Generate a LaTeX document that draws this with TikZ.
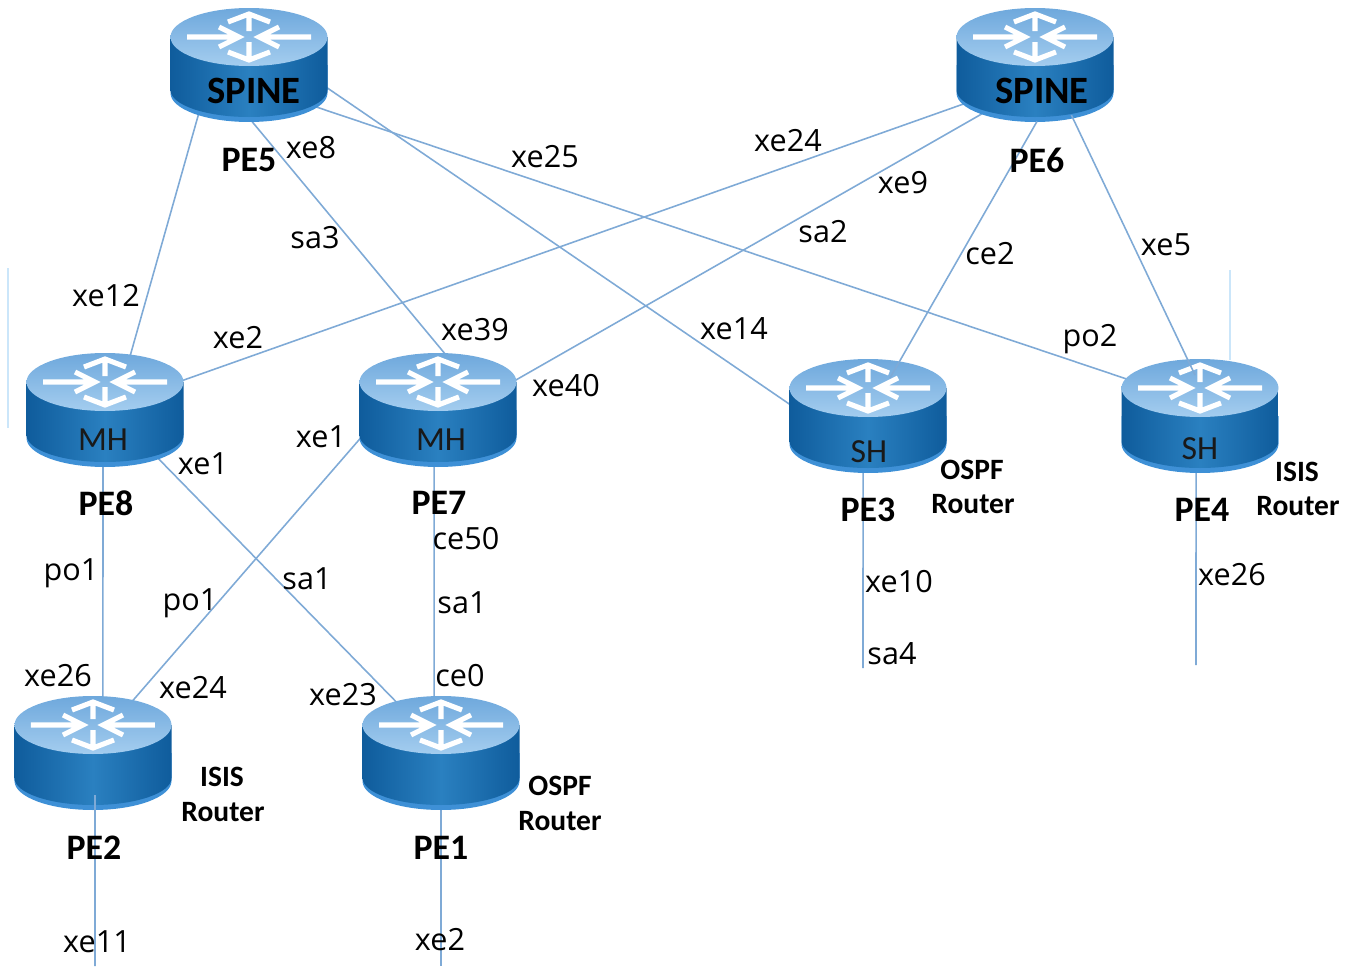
\documentclass[tikz,border=0pt]{standalone}
\usepackage{fontspec}
\setmainfont{Open Sans}
\newfontfamily\boldlabel{Carlito}
\usepackage{xcolor}
\usetikzlibrary{shapes.geometric}

\definecolor{linkblue}{HTML}{7FAAD6}
\definecolor{faintblue}{HTML}{CBE6FA}
\definecolor{bodydark}{HTML}{0F5C9C}
\definecolor{bodylight}{HTML}{2A80C0}
\definecolor{rimblue}{HTML}{3E90D6}
\definecolor{topdark}{HTML}{6EA8DC}
\definecolor{toplight}{HTML}{A4CDEF}

\tikzset{
  routerbox/.style={ellipse,minimum width=1.57cm,minimum height=1.13cm,inner sep=0pt,outer sep=0pt},
  link/.style={draw=linkblue,line width=0.45pt},
  faint/.style={draw=faintblue,line width=0.6pt},
  port/.style={font=\fontsize{8.7}{10}\selectfont,text=black,inner sep=0pt},
  pename/.style={font=\boldlabel\bfseries\fontsize{10.2}{12}\selectfont,inner sep=0pt},
  rolename/.style={font=\boldlabel\bfseries\fontsize{8.4}{10}\selectfont,inner sep=0pt},
  spinetext/.style={font=\boldlabel\bfseries\fontsize{11}{13}\selectfont,inner sep=0pt},
  leaftext/.style={font=\boldlabel\fontsize{9.6}{11}\selectfont,text=black!90,inner sep=0pt},
  arrowline/.style={draw=white,line width=1.45pt},
  router/.pic={
    % rim, body and top disc
    \fill[rimblue] (-0.785,-0.28) arc[start angle=180,end angle=360,x radius=0.785,y radius=0.29]
      -- (0.785,0) -- (-0.785,0) -- cycle;
    \shade[left color=bodydark,right color=bodydark,middle color=bodylight]
      (-0.785,0.28) -- (-0.785,-0.25) arc[start angle=180,end angle=360,x radius=0.785,y radius=0.27]
      -- (0.785,0.28) -- cycle;
    \shade[top color=topdark,bottom color=toplight] (0,0.28) ellipse[x radius=0.785,y radius=0.29];
    % four white arrows
    \draw[arrowline] (-0.62,0.28) -- (-0.12,0.28) (-0.3,0.38) -- (-0.1,0.28) -- (-0.3,0.18);
    \draw[arrowline] (0.62,0.28) -- (0.12,0.28) (0.3,0.38) -- (0.1,0.28) -- (0.3,0.18);
    \draw[arrowline] (0,0.34) -- (0,0.5) (-0.21,0.43) -- (0,0.51) -- (0.21,0.43);
    \draw[arrowline] (0,0.23) -- (0,0.07) (-0.21,0.13) -- (0,0.05) -- (0.21,0.13);
  }
}

\begin{document}
\begin{tikzpicture}
\useasboundingbox (0,0) rectangle (13.53,9.66);

% Routers, laid out first so the links can use their anchors
\node[routerbox] (pe5) at (2.49,9.01) {};
\node[routerbox] (pe6) at (10.35,9.01) {};
\node[routerbox] (pe8) at (1.05,5.56) {};
\node[routerbox] (pe7) at (4.38,5.56) {};
\node[routerbox] (pe3) at (8.68,5.50) {};
\node[routerbox] (pe4) at (12.00,5.50) {};
\node[routerbox] (pe2) at (0.93,2.13) {};
\node[routerbox] (pe1) at (4.41,2.13) {};

% Free ends of the stubs
\coordinate (pe3end) at (8.63,2.98);
\coordinate (pe4end) at (11.96,3.01);
\coordinate (pe2end) at (0.95,0);
\coordinate (pe1end) at (4.41,0);

% Links behind the routers
\draw[link] (pe5.222) -- (pe8.65);
\draw[link] (pe5.273) -- (pe7.83);
\draw[link] (pe5.345) -- (pe3.172);
\draw[link] (pe5.326) -- (pe4.152);
\draw[link] (pe6.210) -- (pe8.21);
\draw[link] (pe6.224) -- (pe7.20);
\draw[link] (pe8.268) -- (pe2.80);
\draw[link] (pe8.318) -- (pe1.131);
\draw[link] (pe7.197) -- (pe2.53);
\draw[link] (pe7.266) -- (pe1.97);
\draw[link] (pe3.265) -- (pe3end);
\draw[link] (pe4.266) -- (pe4end);
\draw[link] (pe1.270) -- (pe1end);

% Two pale rules
\coordinate (faintatop) at (0.08,6.98);
\coordinate (faintabot) at (0.08,5.38);
\coordinate (faintbtop) at (12.30,6.96);
\coordinate (faintbbot) at (12.30,6.06);
\draw[faint] (faintatop) -- (faintabot);
\draw[faint] (faintbtop) -- (faintbbot);

% Draw the routers
\foreach \r in {pe5,pe6,pe8,pe7,pe3,pe4,pe2,pe1}
  \pic at (\r) {router};

% These links run on top of the routers
\draw[link] (pe6.272) -- ([shift={(0.22,0.38)}]pe3.center);
\draw[link] (pe6.306) -- ([shift={(-0.05,0.41)}]pe4.center);
\draw[link] ([shift={(0.02,-0.42)}]pe2.center) -- (pe2end);

% Text on the routers
\node[spinetext] (spineleft) at (2.54,8.75) {SPINE};
\node[spinetext] (spineright) at (10.42,8.75) {SPINE};
\node[leaftext] (mhleft) at (1.03,5.26) {MH};
\node[leaftext] (mhright) at (4.41,5.26) {MH};
\node[leaftext] (shleft) at (8.69,5.14) {SH};
\node[leaftext] (shright) at (12.00,5.17) {SH};

% Router names
\node[pename] (pe5name) at (2.49,8.06) {PE5};
\node[pename] (pe6name) at (10.37,8.06) {PE6};
\node[pename] (pe8name) at (1.06,4.63) {PE8};
\node[pename] (pe7name) at (4.39,4.63) {PE7};
\node[pename] (pe3name) at (8.68,4.56) {PE3};
\node[pename] (pe4name) at (12.02,4.56) {PE4};
\node[pename] (pe2name) at (0.94,1.18) {PE2};
\node[pename] (pe1name) at (4.41,1.18) {PE1};

% Router roles
\node[rolename] (ospfa) at (9.72,4.96) {OSPF};
\node[rolename] (routera) at (9.73,4.62) {Router};
\node[rolename] (isisa) at (12.97,4.94) {ISIS};
\node[rolename] (routerb) at (12.98,4.60) {Router};
\node[rolename] (isisb) at (2.22,1.89) {ISIS};
\node[rolename] (routerc) at (2.23,1.54) {Router};
\node[rolename] (ospfb) at (5.60,1.80) {OSPF};
\node[rolename] (routerd) at (5.60,1.45) {Router};

% Port labels
\node[port] (xe8p5) at (3.11,8.18) {xe8};
\node[port] (xe25p5) at (5.45,8.09) {xe25};
\node[port] (xe24p6) at (7.88,8.25) {xe24};
\node[port] (xe9p6) at (9.03,7.83) {xe9};
\node[port] (sa3p5) at (3.15,7.28) {sa3};
\node[port] (sa2p6) at (8.23,7.34) {sa2};
\node[port] (ce2p6) at (9.90,7.12) {ce2};
\node[port] (xe5p6) at (11.66,7.21) {xe5};
\node[port] (xe12p5) at (1.06,6.70) {xe12};
\node[port] (xe2p8) at (2.38,6.28) {xe2};
\node[port] (xe39p7) at (4.75,6.36) {xe39};
\node[port] (xe14p3) at (7.34,6.37) {xe14};
\node[port] (po2p4) at (10.90,6.27) {po2};
\node[port] (xe40p7) at (5.66,5.80) {xe40};
\node[port] (xe1p7) at (3.21,5.29) {xe1};
\node[port] (xe1p8) at (2.03,5.02) {xe1};
\node[port] (ce50p7) at (4.66,4.27) {ce50};
\node[port] (po1p8) at (0.71,3.93) {po1};
\node[port] (sa1p8) at (3.07,3.87) {sa1};
\node[port] (sa1p7) at (4.62,3.63) {sa1};
\node[port] (xe10p3) at (8.99,3.84) {xe10};
\node[port] (xe26p4) at (12.32,3.91) {xe26};
\node[port] (po1p7) at (1.90,3.63) {po1};
\node[port] (sa4p3) at (8.92,3.12) {sa4};
\node[port] (xe26p2) at (0.58,2.90) {xe26};
\node[port] (ce0p1) at (4.60,2.90) {ce0};
\node[port] (xe24p2) at (1.93,2.78) {xe24};
\node[port] (xe23p1) at (3.43,2.71) {xe23};
\node[port] (xe11p2) at (0.97,0.24) {xe11};
\node[port] (xe2p1) at (4.40,0.26) {xe2};
\end{tikzpicture}
\end{document}
